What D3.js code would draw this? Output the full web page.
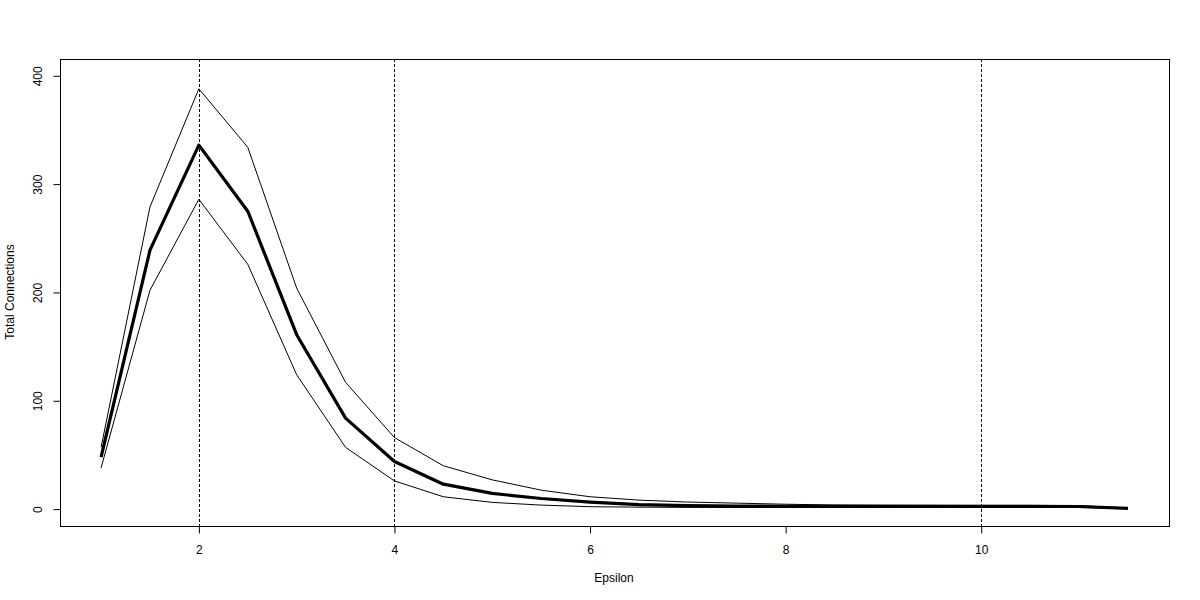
<!DOCTYPE html>
<html><head><meta charset="utf-8">
<script src="https://cdn.jsdelivr.net/npm/d3@7"></script>
<style>body{margin:0;background:#fff}svg{display:block}text{font-family:"Liberation Sans",Arial,sans-serif;font-size:12px;fill:#000}</style>
</head><body><svg id="c" width="1200" height="600"></svg>
<script>
const epsilon = [1,1.5,2,2.5,3,3.5,4,4.5,5,5.5,6,6.5,7,7.5,8,8.5,9,9.5,10,10.5,11,11.5];
const meanVals = [48,239,336,275,161,84,44,23,14.5,9.8,6.5,4.2,3.2,2.8,2.6,2.5,2.5,2.5,2.5,2.5,2.4,0.7];
const upperVals = [57,279,388,334,204,117,66,40,27,17.5,11.4,8.3,6.5,5.5,4.5,3.8,3.6,3.5,3.4,3.4,3.2,0.9];
const lowerVals = [38,202,286,226,124,57,26,11.4,6.2,3.7,2.2,1.8,1.6,1.5,1.5,1.5,1.5,1.5,1.5,1.5,1.5,0.5];
const vlines = [2,4,10];
const xTicks = [2,4,6,8,10];
const yTicks = [0,100,200,300,400];

const svg = d3.select("#c");
const L=60,R=1169,T=59,B=526;
const x = d3.scaleLinear().domain([0.58,11.92]).range([L,R]);
const y = d3.scaleLinear().domain([-15.6,415.5]).range([B,T]);

// dashed verticals
svg.selectAll("line.v").data(vlines).join("line")
 .attr("x1",d=>Math.round(x(d))+0.5).attr("x2",d=>Math.round(x(d))+0.5)
 .attr("y1",T).attr("y2",B).attr("stroke","#000").attr("stroke-width",1)
 .attr("stroke-dasharray","3,2");

const line = d3.line().x((d,i)=>x(epsilon[i])).y(d=>y(d));
svg.append("path").attr("d",line(upperVals)).attr("fill","none").attr("stroke","#000").attr("stroke-width",1);
svg.append("path").attr("d",line(lowerVals)).attr("fill","none").attr("stroke","#000").attr("stroke-width",1);
svg.append("path").attr("d",line(meanVals)).attr("fill","none").attr("stroke","#000").attr("stroke-width",3.2).attr("stroke-linejoin","round");

// box
svg.append("rect").attr("x",L+0.5).attr("y",T+0.5).attr("width",R-L).attr("height",B-T)
 .attr("fill","none").attr("stroke","#000");

// x axis
const xa = svg.append("g").attr("transform",`translate(0,${B+0.5})`)
 .call(d3.axisBottom(x).tickValues(xTicks).tickSize(7).tickPadding(12).tickFormat(d3.format("d")));
xa.select(".domain").attr("d",`M${x(2)},0H${x(10)}`);
// y axis
const ya = svg.append("g").attr("transform",`translate(${L+0.5},0)`)
 .call(d3.axisLeft(y).tickValues(yTicks).tickSize(7).tickFormat(d3.format("d")));
ya.select(".domain").attr("d",`M0,${y(0)}V${y(400)}`);
ya.selectAll(".tick text").attr("transform","rotate(-90)").attr("text-anchor","middle").attr("x",0).attr("y",-19).attr("dy","0");
svg.selectAll(".tick text").style("font-family","'Liberation Sans',Arial,sans-serif").style("font-size","12px");

svg.append("text").attr("x",614).attr("y",582).attr("text-anchor","middle").text("Epsilon");
svg.append("text").attr("transform","translate(14,292) rotate(-90)").attr("text-anchor","middle").text("Total Connections");
</script></body></html>
